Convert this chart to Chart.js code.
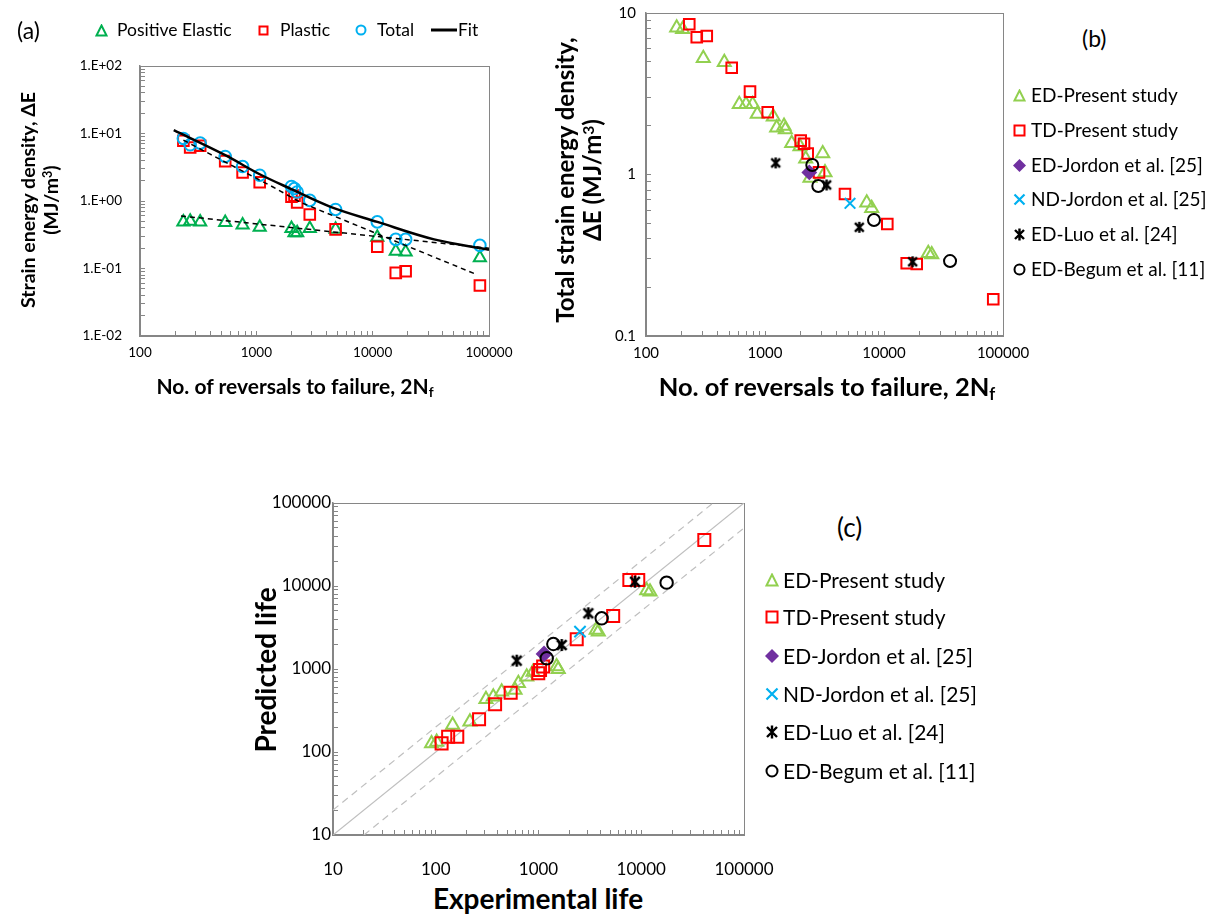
<!DOCTYPE html>
<html>
<head>
<meta charset="utf-8">
<title>Strain energy density vs reversals to failure</title>
<script src="https://cdn.jsdelivr.net/npm/chart.js@4.4.1/dist/chart.umd.min.js"></script>
<style>
  html, body { margin: 0; padding: 0; background: #ffffff; }
  body { position: relative; width: 1216px; height: 914px; overflow: hidden; font-family: Lato, "Open Sans", sans-serif; color: #000; }
  .box { position: absolute; }
  .txt { position: absolute; white-space: nowrap; }
  .ttl { position: absolute; white-space: nowrap; font-weight: bold; text-align: center; }
  .rot { transform: rotate(-90deg); }
  sub { font-size: 0.65em; position: relative; top: 0.25em; vertical-align: baseline; }
  sup { font-size: 0.65em; position: relative; top: -0.45em; vertical-align: baseline; }
</style>
</head>
<body>
<div class="box" id="boxA" style="left:0px; top:26px; width:534px; height:374px;"><canvas id="chartA"></canvas></div>
<div class="box" id="boxB" style="left:540px; top:-27px; width:513px; height:427px;"><canvas id="chartB"></canvas></div>
<div class="box" id="boxC" style="left:230px; top:463px; width:584px; height:417px;"><canvas id="chartC"></canvas></div>

<div class="txt" style="left:17px; top:15px; font-size:23px; line-height:30px;">(a)</div>
<div class="txt" style="left:1082px; top:23px; font-size:23px; line-height:30px;">(b)</div>
<div class="txt" style="left:837px; top:510px; font-size:26px; line-height:34px;">(c)</div>

<div class="ttl rot" style="left:-131px; top:177px; width:340px; height:46px; line-height:23px; font-size:19.5px;">Strain energy density, &Delta;E<br>(MJ/m<sup>3</sup>)</div>
<div class="ttl" style="left:95px; top:372px; width:400px; line-height:28px; font-size:21px;">No. of reversals to failure, 2N<sub>f</sub></div>

<div class="ttl rot" style="left:378px; top:153px; width:400px; height:54px; line-height:27px; font-size:24px;">Total strain energy density,<br>&Delta;E (MJ/m<sup>3</sup>)</div>
<div class="ttl" style="left:597px; top:371px; width:460px; line-height:30px; font-size:25.5px;">No. of reversals to failure, 2N<sub>f</sub></div>

<div class="ttl rot" style="left:135px; top:652px; width:260px; height:36px; line-height:36px; font-size:28px;">Predicted life</div>
<div class="ttl" style="left:388px; top:880px; width:300px; line-height:36px; font-size:28px;">Experimental life</div>

<div id="legends"></div>

<script>
/* ----------------------------------------------------------------------------
                                     DATA
---------------------------------------------------------------------------- */

// (a) energy components against reversals to failure -------------------------
var aSeriesNames = ['Positive Elastic', 'Plastic', 'Total', 'Fit'];
var aCycles  = [236, 270, 329, 540, 762, 1069, 2005, 2128, 2244, 2880, 4800, 10960, 15800, 19200, 83500];
var aElastic = [0.49, 0.50, 0.49, 0.48, 0.44, 0.41, 0.39, 0.34, 0.34, 0.39, 0.38, 0.29, 0.18, 0.175, 0.144];
var aPlastic = [7.8, 6.2, 6.6, 3.9, 2.65, 1.9, 1.16, 1.2, 0.95, 0.63, 0.38, 0.21, 0.086, 0.091, 0.056];
var aTotal   = [8.45, 6.8, 7.2, 4.57, 3.24, 2.41, 1.64, 1.53, 1.36, 1.02, 0.75, 0.49, 0.27, 0.27, 0.22];

var aFitCycles = [195, 540, 1069, 2000, 4345, 10970, 33700, 100000];
var aFitTotal  = [11.2, 4.77, 2.49, 1.5, 0.82, 0.49, 0.27, 0.19];
var aElasticFitCycles = [225, 100000];
var aElasticFitValues = [0.6, 0.2];
var aPlasticFitCycles = [236, 401, 1403, 2393, 78900];
var aPlasticFitValues = [7.98, 4.94, 1.6, 0.956, 0.081];

var aXDecades = [100, 1000, 10000, 100000];
var aXLabels  = ['100', '1000', '10000', '100000'];
var aYDecades = [0.01, 0.1, 1, 10, 100];
var aYLabels  = ['1.E-02', '1.E-01', '1.E+00', '1.E+01', '1.E+02'];

// (b) and (c) series names ---------------------------------------------------
var compareNames = ['ED-Present study', 'TD-Present study', 'ED-Jordon et al. [25]',
                    'ND-Jordon et al. [25]', 'ED-Luo et al. [24]', 'ED-Begum et al. [11]'];

// (b) total strain energy density -------------------------------------------
var bEdCycles = [181, 203, 303, 455, 608, 692, 788, 861, 1174, 1253, 1445, 1482, 1676, 1968, 2198, 2388, 3055, 3193, 7161, 7880, 23550, 25180];
var bEdEnergy = [8.11, 7.93, 5.24, 4.95, 2.72, 2.72, 2.72, 2.37, 2.28, 1.95, 2.0, 1.9, 1.56, 1.49, 1.25, 0.95, 1.35, 1.03, 0.669, 0.618, 0.325, 0.32];
var bTdCycles = [231, 267, 324, 525, 748, 1054, 1995, 2128, 2285, 2844, 4699, 10660, 15520, 18830, 82800];
var bTdEnergy = [8.51, 7.07, 7.2, 4.58, 3.26, 2.43, 1.62, 1.55, 1.35, 1.03, 0.757, 0.494, 0.282, 0.279, 0.169];
var bJordonEdCycles = [2357];
var bJordonEdEnergy = [1.03];
var bJordonNdCycles = [5180];
var bJordonNdEnergy = [0.663];
var bLuoCycles = [1230, 3299, 6200, 17420];
var bLuoEnergy = [1.18, 0.861, 0.471, 0.288];
var bBegumCycles = [2497, 2805, 8240, 35890];
var bBegumEnergy = [1.145, 0.849, 0.523, 0.291];

var bXDecades = [100, 1000, 10000, 100000];
var bXLabels  = ['100', '1000', '10000', '100000'];
var bYDecades = [0.1, 1, 10];
var bYLabels  = ['0.1', '1', '10'];

// (c) predicted against experimental life -----------------------------------
var cEdExp  = [91, 102, 146, 215, 308, 363, 438, 591, 637, 768, 885, 1556, 1500, 3640, 3820, 11300, 12170];
var cEdPred = [127, 132, 211, 232, 431, 463, 533, 559, 672, 807, 920, 991, 1070, 2960, 2820, 8800, 8530];
var cTdExp  = [114, 132, 162, 264, 378, 536, 995, 1035, 1110, 2355, 5330, 7660, 9350, 41100];
var cTdPred = [127, 153, 153, 248, 376, 518, 887, 973, 1070, 2280, 4350, 11800, 11800, 35800];
var cJordonEdExp  = [1132];
var cJordonEdPred = [1518];
var cJordonNdExp  = [2535];
var cJordonNdPred = [2820];
var cLuoExp  = [614, 1683, 3055, 8690];
var cLuoPred = [1260, 1945, 4690, 11270];
var cBegumExp  = [1203, 1394, 4120, 17660];
var cBegumPred = [1346, 2000, 4080, 10970];

var cUnityX = [10, 100000];
var cUnityY = [10, 100000];
var cUpperX = [10, 50000];
var cUpperY = [20, 100000];
var cLowerX = [20, 100000];
var cLowerY = [10, 50000];

var cDecades = [10, 100, 1000, 10000, 100000];
var cLabels  = ['10', '100', '1000', '10000', '100000'];

/* ----------------------------------------------------------------------------
                                  HELPERS
---------------------------------------------------------------------------- */
Chart.defaults.font.family = 'Lato, "Open Sans", sans-serif';
Chart.defaults.color = '#000';

var AXIS_GREY = '#868686';
var GREEN_A = '#00b050';
var GREEN_B = '#92d050';
var RED = '#ff0000';
var BLUE = '#00b0f0';
var PURPLE = '#7030a0';

function pairs(xs, ys) {
    return xs.map(function(x, i) { return {x: x, y: ys[i]}; });
}

function withMinors(decades) {
    var out = [];
    for (var i = 0; i < decades.length; i++) {
        out.push(decades[i]);
        if (i < decades.length - 1) {
            for (var k = 2; k < 10; k++) out.push(decades[i] * k);
        }
    }
    return out;
}

function decadeLabel(decades, labels) {
    return function(value) {
        for (var i = 0; i < decades.length; i++) {
            if (Math.abs(value / decades[i] - 1) < 1e-6) return labels[i];
        }
        return '';
    };
}

function logAxis(o) {
    var tickValues = withMinors(o.decades);
    return {
        type: 'logarithmic',
        position: o.position,
        min: o.decades[0],
        max: o.decades[o.decades.length - 1],
        afterBuildTicks: function(s) { s.ticks = tickValues.map(function(v) { return {value: v}; }); },
        afterFit: function(s) { if (o.position === 'bottom') s.height = o.size; else s.width = o.size; },
        ticks: {
            autoSkip: false, maxRotation: 0, minRotation: 0,
            padding: o.padding, color: '#000', font: {size: o.font},
            callback: decadeLabel(o.decades, o.labels)
        },
        grid: { display: true, drawOnChartArea: false, drawTicks: true, tickLength: -5, color: AXIS_GREY, lineWidth: 1 },
        border: { display: true, color: AXIS_GREY, width: 1.5 }
    };
}

function marks(label, xs, ys, style, color, r, fill, order) {
    return {
        label: label, data: pairs(xs, ys), showLine: false, order: order,
        pointStyle: style, pointRadius: r, pointHoverRadius: r,
        pointBorderColor: color, pointBackgroundColor: fill || 'rgba(0,0,0,0)', pointBorderWidth: 2
    };
}

function curve(label, xs, ys, color, width, dash, tension, order) {
    return {
        label: label, data: pairs(xs, ys), showLine: true, order: order,
        borderColor: color, borderWidth: width, borderDash: dash || [],
        pointRadius: 0, pointHoverRadius: 0, tension: tension || 0, fill: false
    };
}

function asteriskImage(size, color, lw) {
    var c = document.createElement('canvas');
    c.width = size; c.height = size;
    var g = c.getContext('2d');
    var m = size / 2, d = size / 2 - 1;
    g.strokeStyle = color; g.lineWidth = lw;
    g.beginPath();
    g.moveTo(m - d * 0.8, m - d * 0.8); g.lineTo(m + d * 0.8, m + d * 0.8);
    g.moveTo(m + d * 0.8, m - d * 0.8); g.lineTo(m - d * 0.8, m + d * 0.8);
    g.moveTo(m, m - d); g.lineTo(m, m + d);
    g.stroke();
    return c;
}

var plotBorder = {
    id: 'plotBorder',
    beforeDatasetsDraw: function(chart) {
        var a = chart.chartArea, ctx = chart.ctx;
        ctx.save();
        ctx.strokeStyle = AXIS_GREY;
        ctx.lineWidth = 1;
        ctx.strokeRect(Math.round(a.left) + 0.5, Math.round(a.top) + 0.5,
                       Math.round(a.right - a.left), Math.round(a.bottom - a.top));
        ctx.restore();
    }
};

// the layout padding is kept larger than what the tick labels ask for,
// so the plot area lands exactly inside each box
function baseOptions(padding, xAxis, yAxis) {
    return {
        responsive: true, maintainAspectRatio: false, animation: false, devicePixelRatio: 1,
        events: [],
        layout: { padding: padding },
        plugins: { legend: { display: false }, tooltip: { enabled: false } },
        scales: { x: xAxis, y: yAxis }
    };
}

/* ----------------------------------------------------------------------------
                                   CHARTS
---------------------------------------------------------------------------- */

// (a) ------------------------------------------------------------------------
new Chart(document.getElementById('chartA'), {
    type: 'scatter',
    data: {
        datasets: [
            curve(aSeriesNames[3], aFitCycles, aFitTotal, '#000', 2.5, [], 0.35, 1),
            curve('Elastic fit', aElasticFitCycles, aElasticFitValues, '#000', 1.5, [5, 4], 0, 1),
            curve('Plastic fit', aPlasticFitCycles, aPlasticFitValues, '#000', 1.5, [5, 4], 0, 1),
            marks(aSeriesNames[0], aCycles, aElastic, 'triangle', GREEN_A, 7, null, 4),
            marks(aSeriesNames[1], aCycles, aPlastic, 'rect', RED, 7.5, null, 3),
            marks(aSeriesNames[2], aCycles, aTotal, 'circle', BLUE, 5.8, null, 2)
        ]
    },
    options: baseOptions({top: 40, right: 45, bottom: 0, left: 0},
        logAxis({position: 'bottom', decades: aXDecades, labels: aXLabels, size: 64, padding: 14, font: 13.5}),
        logAxis({position: 'left', decades: aYDecades, labels: aYLabels, size: 140, padding: 23, font: 13.5})),
    plugins: [plotBorder]
});

// (b) ------------------------------------------------------------------------
new Chart(document.getElementById('chartB'), {
    type: 'scatter',
    data: {
        datasets: [
            marks(compareNames[0], bEdCycles, bEdEnergy, 'triangle', GREEN_B, 7.5, null, 6),
            marks(compareNames[1], bTdCycles, bTdEnergy, 'rect', RED, 7.5, null, 5),
            marks(compareNames[2], bJordonEdCycles, bJordonEdEnergy, 'rectRot', PURPLE, 6.5, PURPLE, 4),
            marks(compareNames[3], bJordonNdCycles, bJordonNdEnergy, 'crossRot', BLUE, 7.5, null, 3),
            marks(compareNames[4], bLuoCycles, bLuoEnergy, asteriskImage(13, '#000', 2.4), '#000', 6, null, 2),
            marks(compareNames[5], bBegumCycles, bBegumEnergy, 'circle', '#000', 6, null, 1)
        ]
    },
    options: baseOptions({top: 40, right: 50, bottom: 0, left: 0},
        logAxis({position: 'bottom', decades: bXDecades, labels: bXLabels, size: 64, padding: 13, font: 15}),
        logAxis({position: 'left', decades: bYDecades, labels: bYLabels, size: 106, padding: 15, font: 15})),
    plugins: [plotBorder]
});

// (c) ------------------------------------------------------------------------
new Chart(document.getElementById('chartC'), {
    type: 'scatter',
    data: {
        datasets: [
            marks(compareNames[0], cEdExp, cEdPred, 'triangle', GREEN_B, 7.5, null, 6),
            marks(compareNames[1], cTdExp, cTdPred, 'rect', RED, 8.5, null, 5),
            marks(compareNames[2], cJordonEdExp, cJordonEdPred, 'rectRot', PURPLE, 7, PURPLE, 4),
            marks(compareNames[3], cJordonNdExp, cJordonNdPred, 'crossRot', BLUE, 8, null, 3),
            marks(compareNames[4], cLuoExp, cLuoPred, asteriskImage(14, '#000', 2.6), '#000', 7, null, 2),
            marks(compareNames[5], cBegumExp, cBegumPred, 'circle', '#000', 6.2, null, 1),
            curve('1:1', cUnityX, cUnityY, '#bfbfbf', 1.2, [], 0, 9),
            curve('Factor 2 upper', cUpperX, cUpperY, '#bfbfbf', 1.2, [7, 5], 0, 9),
            curve('Factor 2 lower', cLowerX, cLowerY, '#bfbfbf', 1.2, [7, 5], 0, 9)
        ]
    },
    options: baseOptions({top: 40, right: 70, bottom: 0, left: 0},
        logAxis({position: 'bottom', decades: cDecades, labels: cLabels, size: 45, padding: 29, font: 17}),
        logAxis({position: 'left', decades: cDecades, labels: cLabels, size: 103, padding: 7, font: 17})),
    plugins: [plotBorder]
});

/* ----------------------------------------------------------------------------
                                   LEGENDS
---------------------------------------------------------------------------- */
var legendRoot = document.getElementById('legends');

function markerSvg(kind, color, s) {
    var h = s / 2, e = s - 1.5, p = '';
    if (kind === 'triangle') {
        p = '<polygon points="' + h + ',1.5 ' + e + ',' + e + ' 1.5,' + e + '" fill="none" stroke="' + color + '" stroke-width="2"/>';
    } else if (kind === 'rect') {
        p = '<rect x="1.5" y="1.5" width="' + (s - 3) + '" height="' + (s - 3) + '" fill="none" stroke="' + color + '" stroke-width="2"/>';
    } else if (kind === 'circle') {
        p = '<circle cx="' + h + '" cy="' + h + '" r="' + (h - 1.5) + '" fill="none" stroke="' + color + '" stroke-width="2"/>';
    } else if (kind === 'diamond') {
        p = '<polygon points="' + h + ',0 ' + s + ',' + h + ' ' + h + ',' + s + ' 0,' + h + '" fill="' + color + '"/>';
    } else if (kind === 'cross') {
        p = '<path d="M1.5,1.5L' + e + ',' + e + 'M' + e + ',1.5L1.5,' + e + '" stroke="' + color + '" stroke-width="2.2"/>';
    } else if (kind === 'star') {
        p = '<path d="M2,2L' + (s - 2) + ',' + (s - 2) + 'M' + (s - 2) + ',2L2,' + (s - 2) + 'M' + h + ',0.5L' + h + ',' + (s - 0.5) + '" stroke="' + color + '" stroke-width="2.4"/>';
    } else if (kind === 'line') {
        return '<svg width="26" height="' + s + '"><line x1="0" y1="' + h + '" x2="26" y2="' + h + '" stroke="' + color + '" stroke-width="3"/></svg>';
    }
    return '<svg width="' + s + '" height="' + s + '">' + p + '</svg>';
}

function legendItem(kind, color, s, mx, y, text, tx, fontSize) {
    var m = document.createElement('div');
    m.className = 'txt';
    m.style.left = (kind === 'line' ? mx : mx - s / 2) + 'px';
    m.style.top = (y - s / 2) + 'px';
    m.style.lineHeight = '0';
    m.innerHTML = markerSvg(kind, color, s);
    legendRoot.appendChild(m);
    var t = document.createElement('div');
    t.className = 'txt';
    t.style.left = tx + 'px';
    t.style.top = (y - fontSize * 0.7) + 'px';
    t.style.fontSize = fontSize + 'px';
    t.style.lineHeight = (fontSize * 1.4) + 'px';
    t.textContent = text;
    legendRoot.appendChild(t);
}

// (a) one row on top
legendItem('triangle', GREEN_A, 13, 101, 30, aSeriesNames[0], 117, 17.5);
legendItem('rect', RED, 11, 263, 30, aSeriesNames[1], 280, 17.5);
legendItem('circle', BLUE, 12, 361, 30, aSeriesNames[2], 377, 17.5);
legendItem('line', '#000', 8, 431, 30, aSeriesNames[3], 458, 17.5);

// (b) and (c) columns on the right
var compareKinds  = ['triangle', 'rect', 'diamond', 'cross', 'star', 'circle'];
var compareColors = [GREEN_B, RED, PURPLE, BLUE, '#000', '#000'];
var bRows = [95, 130, 165, 199, 234, 269];
var cRows = [580, 617, 656, 694, 732, 771];
for (var i = 0; i < compareNames.length; i++) {
    legendItem(compareKinds[i], compareColors[i], 13, 1019, bRows[i], compareNames[i], 1031, 19);
    legendItem(compareKinds[i], compareColors[i], 14, 772, cRows[i], compareNames[i], 783, 21);
}
</script>
</body>
</html>
